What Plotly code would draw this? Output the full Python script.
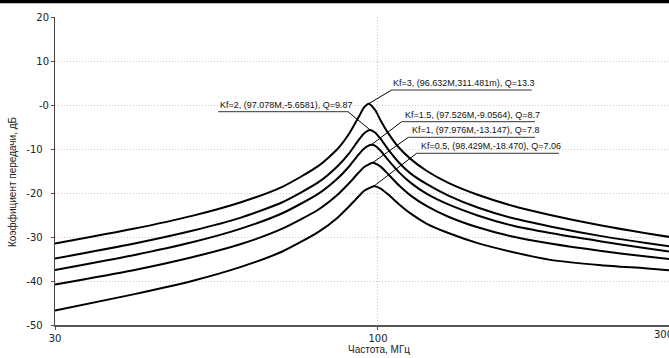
import math
import plotly.graph_objects as go

# ---------------- data ----------------
FREQ = [30, 40, 50, 60, 70, 80, 86, 90, 93, 95, 99, 101, 104, 108, 113, 120,
        130, 145, 165, 190, 230, 270, 300]

K3 = [-31.5, -28.2, -25.2, -22.1, -18.6, -13.9, -10.0, -6.3, -2.8, -0.5, -1.2,
      -3.5, -6.5, -9.6, -12.3, -15.0, -17.7, -20.4, -22.9, -25.0, -27.4, -29.1, -30.1]
K2 = [-34.9, -31.6, -28.6, -25.6, -22.1, -17.6, -13.9, -10.8, -8.0, -6.4, -6.3,
      -7.7, -10.2, -13.0, -15.6, -18.0, -20.6, -23.3, -25.7, -27.6, -29.8, -31.3, -32.2]
K15 = [-37.5, -34.2, -31.2, -28.1, -24.6, -20.2, -16.7, -13.8, -11.3, -9.9, -9.3,
       -10.4, -12.6, -15.2, -17.7, -20.2, -22.6, -25.1, -27.4, -29.1, -31.0, -32.5, -33.4]
K1 = [-40.8, -37.6, -34.6, -31.6, -28.1, -23.8, -20.4, -17.6, -15.4, -14.1, -13.3,
      -14.0, -15.8, -18.2, -20.6, -23.0, -25.4, -27.8, -29.9, -31.5, -33.2, -34.4, -35.1]
K05 = [-46.7, -43.1, -40.0, -36.8, -33.3, -28.9, -25.6, -22.9, -20.8, -19.5, -18.5,
       -19.0, -20.4, -22.5, -24.7, -27.0, -29.1, -31.4, -33.4, -35.2, -36.4, -37.1, -37.6]

SERIES = [K3, K2, K15, K1, K05]
PEAK_F = [96.632, 97.078, 97.526, 97.976, 98.429]
PEAK_DB = [0.311481, -5.6581, -9.0564, -13.147, -18.470]
LABELS = [
    "Kf=3, (96.632M,311.481m), Q=13.3",
    "Kf=2, (97.078M,-5.6581), Q=9.87",
    "Kf=1.5, (97.526M,-9.0564), Q=8.7",
    "Kf=1, (97.976M,-13.147), Q=7.8",
    "Kf=0.5, (98.429M,-18.470), Q=7.06",
]

Y_TICKS = [-50, -40, -30, -20, -10, 0, 10, 20]
Y_TICKTEXT = ["-50", "-40", "-30", "-20", "-10", "-0", "10", "20"]
X_TICKS = [30, 100]
X_TICKTEXT = ["30", "100"]

# ---------------- layout geometry ----------------
W, H = 669, 358
ML, MR, MT, MB = 55, 0, 17, 33
PW = W - ML - MR
PH = H - MT - MB
XLOG0 = math.log10(30)
XLOG1 = XLOG0 + PW / 617.7
YMIN, YMAX = -50, 20
NBSP = "\u00a0"


def px2paper(px, py):
    return (px - ML) / PW, (H - MB - py) / PH


def px2data(px, py):
    lx = XLOG0 + (px - ML) / PW * (XLOG1 - XLOG0)
    y = YMAX - (py - MT) / PH * (YMAX - YMIN)
    return 10 ** lx, y


fig = go.Figure()
for vals, pf, pv in zip(SERIES, PEAK_F, PEAK_DB):
    pts = sorted(list(zip(FREQ, vals)) + [(pf, pv)])
    fig.add_trace(go.Scatter(
        x=[p[0] for p in pts], y=[p[1] for p in pts], mode="lines",
        line=dict(color="black", width=2, shape="spline", smoothing=0.6),
        showlegend=False, hoverinfo="skip"))

# label layout: (leader px, underline y px, underline left px, underline right px, text left px)
LABEL_POS = [
    (391.7, 90.0, 391.7, 531.7, 392.0),
    (348.0, 111.7, 218.3, 348.0, 218.5),
    (401.7, 121.7, 401.7, 535.0, 403.5),
    (408.3, 137.3, 408.3, 535.0, 410.5),
    (416.7, 153.3, 416.7, 559.0, 420.0),
]

shapes = []
annotations = []
for (lx, uy, ul, ur, tx), pf, pv, lab in zip(LABEL_POS, PEAK_F, PEAK_DB, LABELS):
    f_end, db_end = px2data(lx, uy)
    shapes.append(dict(type="line", xref="x", yref="y", x0=pf, y0=pv, x1=f_end, y1=db_end,
                       line=dict(color="black", width=1)))
    x0p, y0p = px2paper(ul, uy)
    x1p, _ = px2paper(ur, uy)
    shapes.append(dict(type="line", xref="paper", yref="paper", x0=x0p, y0=y0p, x1=x1p, y1=y0p,
                       line=dict(color="#333333", width=1)))
    txp, typ = px2paper(tx, uy - 1)
    annotations.append(dict(xref="paper", yref="paper", x=txp, y=typ, xanchor="left",
                            yanchor="bottom", text=lab, showarrow=False, borderpad=0,
                            font=dict(family="Liberation Sans", size=9, color="#111111")))

# black bar at the very top of the picture
bx0, by = px2paper(-5, 1.5)
bx1, _ = px2paper(W + 5, 1.5)
shapes.append(dict(type="line", xref="paper", yref="paper", x0=bx0, x1=bx1, y0=by, y1=by,
                   line=dict(color="black", width=3.5), layer="above"))

# axis titles
ytx, yty = px2paper(12, 182)
annotations.append(dict(xref="paper", yref="paper", x=ytx, y=yty, text="Коэффициент передачи, дБ",
                        textangle=-90, showarrow=False, xanchor="center", yanchor="middle",
                        font=dict(family="Liberation Sans", size=10, color="#222222")))
xtx, xty = px2paper(379, 349)
annotations.append(dict(xref="paper", yref="paper", x=xtx, y=xty, text="Частота, МГц",
                        showarrow=False, xanchor="center", yanchor="middle",
                        font=dict(family="Liberation Sans", size=10, color="#222222")))
# last x tick label, pushed inside the right edge as in the reference (partly cut)
t3x, t3y = px2paper(653, 334)
annotations.append(dict(xref="paper", yref="paper", x=t3x, y=t3y, text="300",
                        showarrow=False, xanchor="left", yanchor="middle", borderpad=0,
                        font=dict(family="DejaVu Sans", size=10, color="#222222")))

ytext = [t + NBSP * 2 if len(t) > 2 else t for t in Y_TICKTEXT]

grid = dict(showgrid=True, gridcolor="#d9c3c8", griddash="1px,2px", gridwidth=1)
fig.update_layout(
    width=W, height=H, margin=dict(l=ML, r=MR, t=MT, b=MB),
    paper_bgcolor="white", plot_bgcolor="white",
    shapes=shapes, annotations=annotations,
    xaxis=dict(type="log", range=[XLOG0, XLOG1], tickvals=X_TICKS, ticktext=X_TICKTEXT,
               showline=True, linecolor="#555555", linewidth=1.5, ticks="outside",
               tickcolor="#a03030", ticklen=3, zeroline=False,
               tickfont=dict(family="DejaVu Sans", size=10, color="#222222"), **grid),
    yaxis=dict(range=[YMIN, YMAX], tickvals=Y_TICKS, ticktext=ytext,
               showline=True, linecolor="#444444", linewidth=1, ticks="outside",
               tickcolor="#a03030", ticklen=3, zeroline=False,
               tickfont=dict(family="DejaVu Sans", size=10, color="#222222"), **grid),
)

fig.write_html("out.html", config={"displayModeBar": False},
               post_script="document.body.style.margin='0';document.body.style.overflow='hidden';")
